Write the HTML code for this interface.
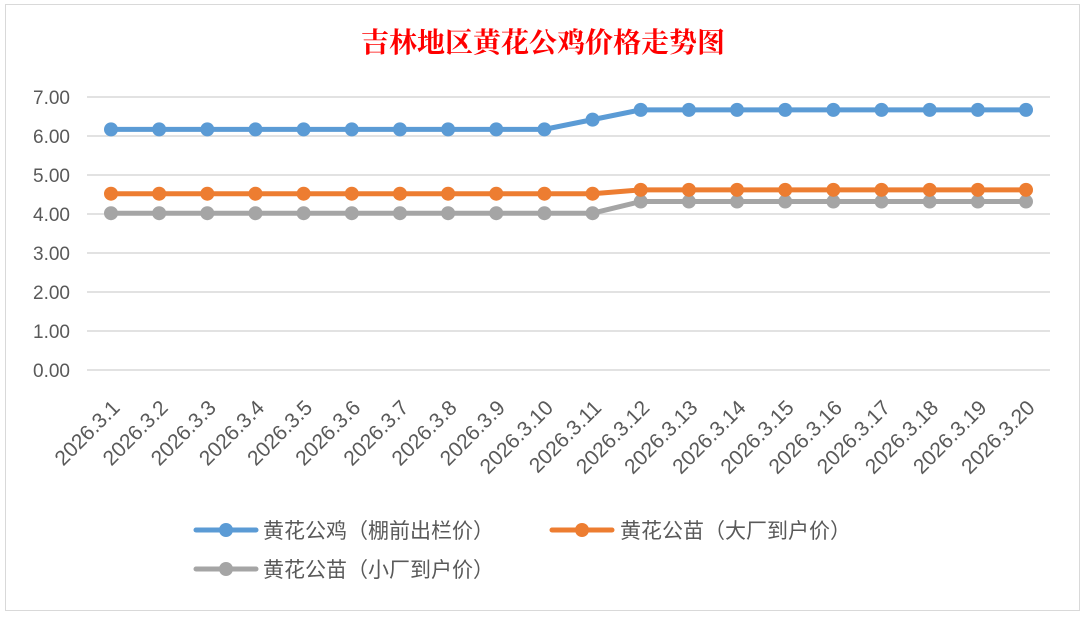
<!DOCTYPE html>
<html><head><meta charset="utf-8"><style>
body{margin:0;background:#fff;width:1085px;height:618px;overflow:hidden}
text{font-family:"Liberation Sans","Noto Sans CJK SC",sans-serif}
text.ttl{font-family:"Noto Serif CJK SC","Liberation Serif",serif !important;font-weight:bold}
</style></head><body>
<svg width="1085" height="618" xmlns="http://www.w3.org/2000/svg">
<rect x="0" y="0" width="1085" height="618" fill="#fff"/>
<rect x="5.5" y="4.5" width="1074" height="606" fill="#fff" stroke="#d9d9d9" stroke-width="1"/>
<text class="ttl" x="543" y="52" text-anchor="middle" font-size="28" fill="#ff0000">吉林地区黄花公鸡价格走势图</text>
<g stroke="#d9d9d9" stroke-width="1.5">
<line x1="87" x2="1050" y1="97" y2="97"/><line x1="87" x2="1050" y1="136" y2="136"/>
<line x1="87" x2="1050" y1="175" y2="175"/><line x1="87" x2="1050" y1="214" y2="214"/>
<line x1="87" x2="1050" y1="253" y2="253"/><line x1="87" x2="1050" y1="292" y2="292"/>
<line x1="87" x2="1050" y1="331" y2="331"/><line x1="87" x2="1050" y1="370" y2="370"/>
</g>
<g font-size="19" fill="#595959" text-anchor="end">
<text x="70" y="104">7.00</text><text x="70" y="143">6.00</text><text x="70" y="182">5.00</text>
<text x="70" y="221">4.00</text><text x="70" y="260">3.00</text><text x="70" y="299">2.00</text>
<text x="70" y="338">1.00</text><text x="70" y="377">0.00</text>
</g>
<g id="xl" font-size="21" fill="#595959" text-anchor="end"></g>
<g id="series"></g>
<g>
<line x1="196" x2="256" y1="530" y2="530" stroke="#5b9bd5" stroke-width="5" stroke-linecap="round"/><circle cx="226" cy="530" r="7" fill="#5b9bd5"/>
<text x="263" y="538" font-size="21" fill="#595959">黄花公鸡（棚前出栏价）</text>
<line x1="552" x2="612" y1="530" y2="530" stroke="#ed7d31" stroke-width="5" stroke-linecap="round"/><circle cx="582" cy="530" r="7" fill="#ed7d31"/>
<text x="620" y="538" font-size="21" fill="#595959">黄花公苗（大厂到户价）</text>
<line x1="196" x2="256" y1="569" y2="569" stroke="#a5a5a5" stroke-width="5" stroke-linecap="round"/><circle cx="226" cy="569" r="7" fill="#a5a5a5"/>
<text x="263" y="577" font-size="21" fill="#595959">黄花公苗（小厂到户价）</text>
</g>
</svg>
<script>
var ns="http://www.w3.org/2000/svg";
function X(i){return 111+i*(1026-111)/19}
function Y(v){return 370-v*39}
var xl=document.getElementById('xl');
for(var i=0;i<20;i++){var t=document.createElementNS(ns,'text');var x=X(i)+10,y=409;
t.setAttribute('x',x);t.setAttribute('y',y);t.setAttribute('transform','rotate(-45 '+x+' '+y+')');t.textContent='2026.3.'+(i+1);xl.appendChild(t);}
var b=[],o=[],g=[];
for(var i=0;i<20;i++){b.push(i<10?6.17:i==10?6.42:6.67);o.push(i<11?4.52:4.62);g.push(i<11?4.02:4.32);}
var s=document.getElementById('series');
[[g,'#a5a5a5'],[o,'#ed7d31'],[b,'#5b9bd5']].forEach(function(d){
var p=d[0].map(function(v,i){return X(i)+','+Y(v)}).join(' ');
var pl=document.createElementNS(ns,'polyline');pl.setAttribute('points',p);pl.setAttribute('fill','none');pl.setAttribute('stroke',d[1]);pl.setAttribute('stroke-width','5');pl.setAttribute('stroke-linejoin','round');s.appendChild(pl);
d[0].forEach(function(v,i){var c=document.createElementNS(ns,'circle');c.setAttribute('cx',X(i));c.setAttribute('cy',Y(v));c.setAttribute('r','7');c.setAttribute('fill',d[1]);s.appendChild(c);});
});
</script>
</body></html>
